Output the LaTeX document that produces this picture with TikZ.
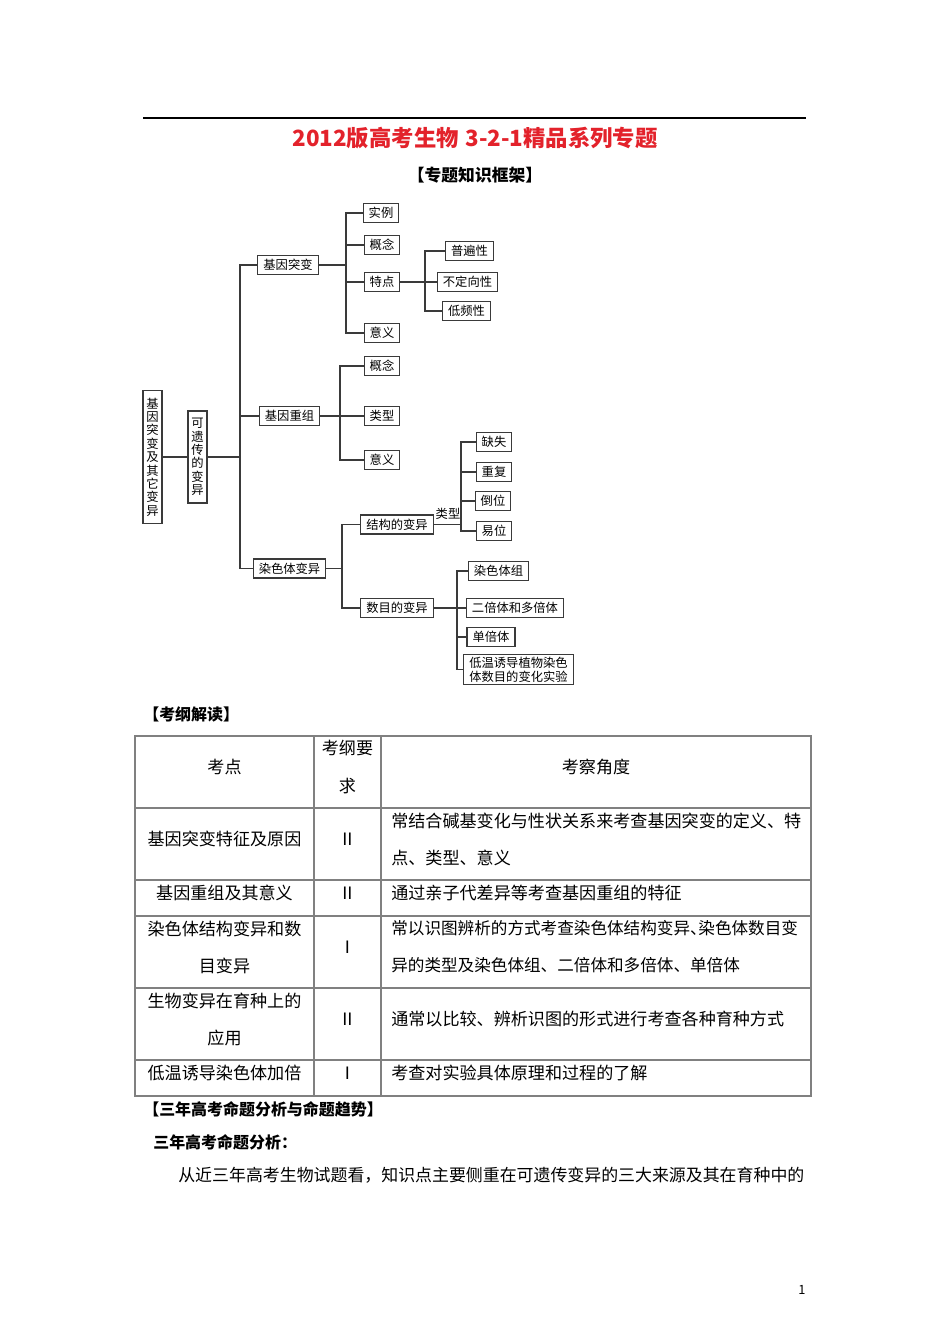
\documentclass[tikz,border=0pt]{standalone}
\usepackage{fontspec}
\setmainfont{Noto Sans CJK SC}
\usepackage{xcolor}
\usepackage{tikz}
\usetikzlibrary{positioning,calc}
\definecolor{titlered}{HTML}{E3222B}
\definecolor{treeline}{HTML}{3A3A3A}
\definecolor{tabline}{HTML}{808080}
\newcommand{\dun}{\makebox[0.5em][l]{、}}

\begin{document}
\begin{tikzpicture}[
    x=0.6265pt,y=-0.6265pt,
    bx/.style   = {draw=treeline,line width=0.75pt,inner xsep=3.5pt,inner ysep=0pt,
                   minimum height=11.9pt,font=\fontsize{7.7}{9}\selectfont},
    vbx/.style  = {draw=treeline,line width=0.75pt,inner xsep=2.1pt,inner ysep=4.5pt,
                   align=center,font=\fontsize{7.7}{8.4}\selectfont},
    ln/.style   = {treeline,line width=0.8pt},
    cell/.style = {font=\fontsize{10.7}{23.2}\selectfont,inner sep=0pt},
    hd/.style   = {font=\fontsize{10}{12}\selectfont\bfseries,anchor=west,inner sep=0pt},
  ]

  \fill[white] (0,0) rectangle (950,1344);
  \useasboundingbox (0,0) rectangle (950,1344);

  % page head
  \draw[line width=1pt] (143,118) -- (806,118);
  \node[font=\fontsize{14}{16}\selectfont\bfseries,text=titlered] (ttl) at (475,138)
    {2012版高考生物\hspace{0.3em}3-2-1精品系列专题};
  \node[font=\fontsize{10.5}{12}\selectfont\bfseries] (sub) at (475,175) {【专题知识框架】};

  % knowledge tree
  \node[vbx] (root) at (152.5,457) {基\\因\\突\\变\\及\\其\\它\\变\\异};
  \node[vbx] (ky)   at (197.5,457) {可\\遗\\传\\的\\变\\异};

  \node[bx] (tb) at (288,265)   {基因突变};
  \node[bx] (cz) at (289.5,416) {基因重组};
  \node[bx] (rb) at (289.5,568.5) {染色体变异};

  \node[bx] (sl)  at (381,213) {实例};
  \node[bx] (gn1) at (382,245) {概念};
  \node[bx] (td)  at (382,282) {特点};
  \node[bx] (yy1) at (382,333) {意义};

  \node[bx] (pbx) at (469.5,251) {普遍性};
  \node[bx] (bdx) at (467.5,282) {不定向性};
  \node[bx] (dpx) at (466.5,311) {低频性};

  \node[bx] (gn2) at (382,366) {概念};
  \node[bx] (lx)  at (382,416) {类型};
  \node[bx] (yy2) at (382,460) {意义};

  \node[bx] (jg) at (397,524.5) {结构的变异};
  \node[bx] (sm) at (397,608)   {数目的变异};

  \node[bx] (qs) at (494,442) {缺失};
  \node[bx] (cf) at (494,472) {重复};
  \node[bx] (dw) at (493,501) {倒位};
  \node[bx] (yw) at (494,531) {易位};
  \node[font=\fontsize{7.7}{9}\selectfont,inner sep=0pt] (lxl) at (448,514) {类型};

  \node[bx] (rst)  at (498.5,571) {染色体组};
  \node[bx] (ebt)  at (515,608)   {二倍体和多倍体};
  \node[bx] (dbt)  at (491,637)   {单倍体};
  \node[bx,align=left,inner ysep=1.5pt] (dwyd) at (518.5,669.5)
    {低温诱导植物染色\\体数目的变化实验};

  \coordinate (j0) at (240,457);
  \coordinate (j1) at (346,265);
  \coordinate (j2) at (425,282);
  \coordinate (j3) at (340,416);
  \coordinate (j4) at (342,568.5);
  \coordinate (j5) at (461,524.5);
  \coordinate (j6) at (457,608);

  \draw[ln] (root) -- (ky);
  \draw[ln] (ky) -- (j0);
  \draw[ln] (tb.west) -| (j0) |- (rb.west);
  \draw[ln] (j0 |- cz.west) -- (cz.west);

  \draw[ln] (tb) -- (j1);
  \draw[ln] (sl.west) -| (j1) |- (yy1.west);
  \draw[ln] (j1 |- gn1.west) -- (gn1.west);
  \draw[ln] (j1 |- td.west) -- (td.west);

  \draw[ln] (td) -- (j2);
  \draw[ln] (pbx.west) -| (j2) |- (dpx.west);
  \draw[ln] (j2) -- (bdx.west);

  \draw[ln] (cz) -- (j3);
  \draw[ln] (gn2.west) -| (j3) |- (yy2.west);
  \draw[ln] (j3) -- (lx.west);

  \draw[ln] (rb) -- (j4);
  \draw[ln] (jg.west) -| (j4) |- (sm.west);

  \draw[ln] (jg) -- (j5);
  \draw[ln] (qs.west) -| (j5) |- (yw.west);
  \draw[ln] (j5 |- cf.west) -- (cf.west);
  \draw[ln] (j5 |- dw.west) -- (dw.west);

  \draw[ln] (sm) -- (j6);
  \draw[ln] (rst.west) -| (j6) |- (dwyd.west);
  \draw[ln] (j6) -- (ebt.west);
  \draw[ln] (j6 |- dbt.west) -- (dbt.west);

  % syllabus table
  \node[hd] (h1) at (143,714) {【考纲解读】};
  \draw[tabline,line width=0.8pt] (135,736) rectangle (811,1096);
  \draw[tabline,line width=0.7pt] (314,736) -- (314,1096) (381,736) -- (381,1096);
  \foreach \y in {808,880,916,988,1060}
    \draw[tabline,line width=0.7pt] (135,\y) -- (811,\y);

  \node[cell] (c11) at (224.5,767) {考点};
  \node[cell,align=center] (c12) at (347.5,767) {考纲要\\求};
  \node[cell] (c13) at (596,767) {考察角度};

  \node[cell] (c21) at (224.5,839) {基因突变特征及原因};
  \node[cell] (c22) at (347.5,839) {Ⅱ};
  \node[cell,anchor=west,align=left] (c23) at (391,839)
    {常结合碱基变化与性状关系来考查基因突变的定义、特\\点、类型、意义};

  \node[cell] (c31) at (224.5,893) {基因重组及其意义};
  \node[cell] (c32) at (347.5,893) {Ⅱ};
  \node[cell,anchor=west] (c33) at (391,893) {通过亲子代差异等考查基因重组的特征};

  \node[cell,align=center] (c41) at (224.5,947) {染色体结构变异和数\\目变异};
  \node[cell] (c42) at (347.5,947) {Ⅰ};
  \node[cell,anchor=west,align=left,font=\fontsize{10.4}{23.2}\selectfont] (c43) at (391,947)
    {常以识图辨析的方式考查染色体结构变异\dun 染色体数目变\\异的类型及染色体组、二倍体和多倍体、单倍体};

  \node[cell,align=center] (c51) at (224.5,1019) {生物变异在育种上的\\应用};
  \node[cell] (c52) at (347.5,1019) {Ⅱ};
  \node[cell,anchor=west] (c53) at (391,1019) {通常以比较、辨析识图的形式进行考查各种育种方式};

  \node[cell] (c61) at (224.5,1073) {低温诱导染色体加倍};
  \node[cell] (c62) at (347.5,1073) {Ⅰ};
  \node[cell,anchor=west] (c63) at (391,1073) {考查对实验具体原理和过程的了解};

  % analysis
  \node[hd] (h2) at (143,1109) {【三年高考命题分析与命题趋势】};
  \node[hd] (h3) at (153,1142) {三年高考命题分析：};
  \node[cell,anchor=west,font=\fontsize{10.6}{12}\selectfont] (p1) at (178,1175)
    {从近三年高考生物试题看，知识点主要侧重在可遗传变异的三大来源及其在育种中的};

  \node[font=\fontsize{8}{9}\selectfont] (pg) at (802,1290) {1};

\end{tikzpicture}
\end{document}
